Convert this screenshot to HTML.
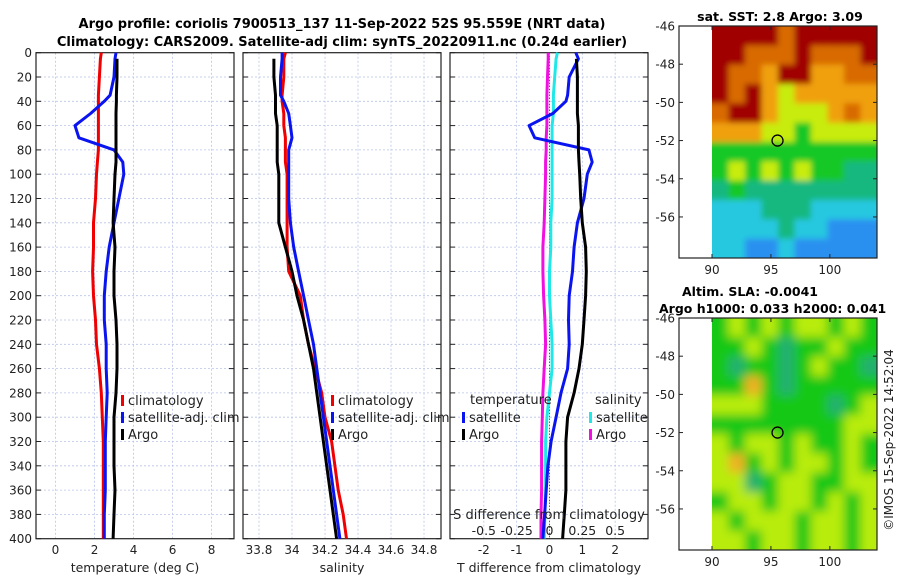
<!DOCTYPE html>
<html><head><meta charset="utf-8"><style>
body{margin:0;background:#fff;width:900px;height:580px;overflow:hidden}
svg text{font-family:"DejaVu Sans","Liberation Sans",sans-serif;fill:#222}
.b{font-weight:bold;fill:#000}
</style></head><body>
<svg id="fig" width="900" height="580" xmlns="http://www.w3.org/2000/svg">
<text class="b" x="342" y="28" font-size="13" text-anchor="middle">Argo profile: coriolis 7900513_137 11-Sep-2022 52S 95.559E (NRT data)</text>
<text class="b" x="342" y="46" font-size="13" text-anchor="middle">Climatology: CARS2009. Satellite-adj clim: synTS_20220911.nc (0.24d earlier)</text>
<text class="b" x="780" y="21" font-size="12.5" text-anchor="middle">sat. SST: 2.8 Argo: 3.09</text>
<text class="b" x="682" y="296" font-size="12.5">Altim. SLA: -0.0041</text>
<text class="b" x="659" y="313" font-size="12.5">Argo h1000: 0.033 h2000: 0.041</text>
<text x="893" y="440" font-size="12" text-anchor="middle" transform="rotate(-90 893 440)">©IMOS 15-Sep-2022 14:52:04</text>
</svg>
<script>
const depth=[0,5,20,35,40,50,60,70,80,90,100,120,140,160,180,200,220,240,260,280,300,320,340,360,380,400];
const tClim=[2.35,2.3,2.25,2.2,2.2,2.2,2.2,2.2,2.2,2.15,2.1,2.05,1.95,1.95,1.9,1.95,2.05,2.1,2.25,2.35,2.4,2.45,2.45,2.45,2.45,2.45];
const tSat=[3.1,3.05,3.0,2.8,2.5,1.8,1.0,1.2,3.0,3.45,3.5,3.25,3.0,2.75,2.6,2.5,2.5,2.6,2.6,2.65,2.6,2.55,2.55,2.55,2.5,2.5];
const tArgo=[null,3.15,3.15,3.12,3.12,3.1,3.1,3.1,3.1,3.1,3.05,3.0,2.95,3.05,3.0,3.0,3.1,3.15,3.15,3.1,3.0,3.0,3.0,3.05,3.0,2.95];
const sClim=[33.96,33.95,33.95,33.94,33.94,33.95,33.95,33.96,33.96,33.96,33.97,33.97,33.97,33.97,33.98,34.05,34.07,34.1,34.14,34.18,34.2,34.24,34.26,34.28,34.31,34.33];
const sSat=[33.94,33.94,33.93,33.93,33.95,33.98,33.99,34.0,33.98,33.98,33.98,33.98,33.99,34.01,34.04,34.07,34.1,34.13,34.15,34.17,34.19,34.21,34.23,34.25,34.27,34.29];
const sArgo=[null,33.89,33.89,33.9,33.9,33.9,33.91,33.91,33.91,33.91,33.92,33.92,33.92,33.96,34.0,34.03,34.07,34.1,34.13,34.15,34.17,34.19,34.21,34.23,34.25,34.27];
const dT_sat=[0.8,0.88,0.6,0.55,0.5,0.1,-0.62,-0.45,1.2,1.3,1.15,1.05,0.85,0.75,0.7,0.6,0.58,0.6,0.55,0.35,0.2,0.05,-0.05,-0.1,-0.15,-0.2];
const dT_argo=[null,0.82,0.85,0.85,0.85,0.85,0.88,0.88,0.88,0.9,0.92,0.95,1.0,1.1,1.12,1.1,1.05,1.0,0.9,0.75,0.55,0.5,0.5,0.5,0.45,0.4];
const dS_sat=[0.06,0.05,0.04,0.03,0.03,0.03,0.02,0.02,0.02,0.02,0.02,0.02,0.01,0.01,0.0,0.0,0.01,0.02,0.02,0.0,-0.02,-0.03,-0.03,-0.03,-0.035,-0.04];
const dS_argo=[-0.01,-0.01,-0.015,-0.02,-0.02,-0.02,-0.02,-0.025,-0.025,-0.03,-0.03,-0.035,-0.04,-0.05,-0.05,-0.045,-0.035,-0.03,-0.04,-0.05,-0.055,-0.06,-0.06,-0.06,-0.065,-0.065];
const depthTicks=[0,20,40,60,80,100,120,140,160,180,200,220,240,260,280,300,320,340,360,380,400];
const tTicks=[0,2,4,6,8];
const sTicks=[33.8,34,34.2,34.4,34.6,34.8];
const dTTicks=[-2,-1,0,1,2];
const dSTicks=[-0.5,-0.25,0,0.25,0.5];
const sstGrid=[
[6,6,6,6,5,6,6,6,6,6],[6,6,5,5,5,6,5,5,5,6],[6,5,5,4,6,6,4,4,5,5],[6,5,6,4,3,4,4,4,4,4],
[5,6,6,4,3,3,3,4,5,4],[4,4,4,3,3,2,3,3,3,3],[2,2,2,2,2,2,2,2,2,2],[2,3,2,3,2,3,2,2,1,1],
[1,2,1,1,1,1,1,1,1,1],[0,0,0,1,1,1,0,0,0,0],[0,0,0,0,1,0,0,-1,-1,-1],[0,0,-1,-1,0,-1,-1,-1,-1,-1]];
const slaGrid=[
[2,3,2,3,2,3,3,2,3,2],[2,2,3,2,1,2,2,3,2,2],[2,1,2,2,1,2,3,2,2,1],[2,2,4,2,1,2,2,2,2,2],
[3,3,3,2,2,2,2,1,2,3],[2,2,2,2,2,2,2,2,3,3],[3,2,3,3,2,3,2,2,3,2],[3,4,2,3,2,3,3,2,3,2],
[3,3,1,2,3,3,2,2,3,3],[2,3,3,2,3,3,2,3,2,3],[3,2,3,3,3,2,3,3,2,3],[3,3,2,3,3,2,3,3,2,3]];
const sstColors={"-1":"#2a90f0","0":"#28c8e0","1":"#18b880","2":"#18c828","3":"#c8ec10","4":"#f0a010","5":"#d86a00","6":"#a00000"};
const slaColors={"1":"#20b070","2":"#14c814","3":"#b8ec10","4":"#f0b020"};

const svg=document.getElementById('fig');const NS="http://www.w3.org/2000/svg";
function el(t,a,p){const e=document.createElementNS(NS,t);for(const k in a)e.setAttribute(k,a[k]);(p||svg).appendChild(e);return e;}
const Y0=52.7,Y1=538.7;
function yD(d){return Y0+(d/400)*(Y1-Y0);}
function panel(name,x0,x1,d0,d1,xt,xtitle,showY){
  const g=el('g',{});
  const xs=v=>x0+(v-d0)/(d1-d0)*(x1-x0);
  for(const t of xt){const x=xs(t);const l=el('line',{x1:x,x2:x,y1:Y0,y2:Y1,stroke:'#b8c4e8','stroke-dasharray':'2,2','stroke-width':0.8},g);
    const tx=el('text',{x:x,y:554,'font-size':12,'text-anchor':'middle'},g);tx.textContent=String(t);}
  for(const d of depthTicks){const y=yD(d);if(d>0&&d<400){const l=el('line',{x1:x0,x2:x1,y1:y,y2:y,stroke:'#b8c4e8','stroke-dasharray':'2,2','stroke-width':0.8},g);}
    el('line',{x1:x0,x2:x0+5,y1:y,y2:y,stroke:'#222'},g);el('line',{x1:x1-5,x2:x1,y1:y,y2:y,stroke:'#222'},g);
    if(showY){const tx=el('text',{x:x0-4,y:y+4.5,'font-size':12,'text-anchor':'end'},g);tx.textContent=String(d);}}
  const r=el('rect',{x:x0,y:Y0,width:x1-x0,height:Y1-Y0,fill:'none',stroke:'#222','stroke-width':1.2},g);
  const tt=el('text',{x:(x0+x1)/2,y:572,'font-size':12.5,'text-anchor':'middle'},g);tt.textContent=xtitle;
  return {g,xs};
}
function line(P,vals,col,name,w){let d='';vals.forEach((v,i)=>{if(v===null)return;d+=(d?'L':'M')+P.xs(v).toFixed(1)+','+yD(depth[i]).toFixed(1);});
  const p=el('path',{d:d,fill:'none',stroke:col,'stroke-width':w||3,'stroke-linejoin':'round'},P.g);}
function leg(g,x,y,col,txt,name){el('rect',{x:x,y:y-9,width:3,height:11,fill:col},g);const t=el('text',{x:x+7,y:y+1,'font-size':13},g);t.textContent=txt;}

const P1=panel('temperature-panel',36,234,-1,9.15,tTicks,'temperature (deg C)',true);
line(P1,tClim,'#f00000','temp-climatology-line');line(P1,tSat,'#0a14f0','temp-satellite-line');line(P1,tArgo,'#000','temp-argo-line');
leg(P1.g,121,404,'#f00000','climatology','legend-climatology');leg(P1.g,121,421,'#0a14f0','satellite-adj. clim','legend-satellite');leg(P1.g,121,438,'#000','Argo','legend-argo');

const P2=panel('salinity-panel',243,441,33.703,34.903,sTicks,'salinity',false);
line(P2,sClim,'#f00000','sal-climatology-line');line(P2,sSat,'#0a14f0','sal-satellite-line');line(P2,sArgo,'#000','sal-argo-line');
leg(P2.g,331,404,'#f00000','climatology','legend-climatology');leg(P2.g,331,421,'#0a14f0','satellite-adj. clim','legend-satellite');leg(P2.g,331,438,'#000','Argo','legend-argo');

const P3=panel('difference-panel',450,648,-3.03,3.0,dTTicks,'T difference from climatology',false);
el('line',{x1:P3.xs(0),x2:P3.xs(0),y1:Y0,y2:Y1,stroke:'#333','stroke-dasharray':'1,2','stroke-width':1},P3.g);
const PS={g:P3.g,xs:v=>P3.xs(v*4)};
line(PS,dS_sat,'#20e8e8','sal-diff-satellite-line');line(PS,dS_argo,'#f010e0','sal-diff-argo-line');
line(P3,dT_sat,'#0a14f0','temp-diff-satellite-line');line(P3,dT_argo,'#000','temp-diff-argo-line');
[['temperature',470,404],['salinity',595,404]].forEach(a=>{const t=el('text',{x:a[1],y:a[2],'font-size':13},P3.g);t.textContent=a[0];});
leg(P3.g,462,421,'#0a14f0','satellite','legend-t-satellite');leg(P3.g,462,438,'#000','Argo','legend-t-argo');
leg(P3.g,589,421,'#20e8e8','satellite','legend-s-satellite');leg(P3.g,589,438,'#f010e0','Argo','legend-s-argo');
{const t=el('text',{x:549,y:519,'font-size':13,'text-anchor':'middle'},P3.g);t.textContent='S difference from climatology';
for(const s of dSTicks){const tx=el('text',{x:PS.xs(s),y:535,'font-size':12.5,'text-anchor':'middle'},P3.g);tx.textContent=String(s);}}

function map(name,top,bot,grid,colors,blur){
  const g=el('g',{});
  const X0=679,X1=877,lon0=87.2,lon1=104,lat0=-46,lat1=-58.15;
  const xs=v=>X0+(v-lon0)/(lon1-lon0)*(X1-X0);const ys=v=>top+(v-lat0)/(lat1-lat0)*(bot-top);
  const L=xs(90);
  const id='clip'+name;const cp=el('clipPath',{id:id},g);el('rect',{x:L,y:top,width:X1-L,height:bot-top},cp);
  const fid='f'+name;const f=el('filter',{id:fid,filterUnits:'userSpaceOnUse',x:L-30,y:top-30,width:X1-L+60,height:bot-top+60},g);el('feGaussianBlur',{stdDeviation:blur},f);
  const cg=el('g',{'clip-path':'url(#'+id+')'},g);const ig=el('g',{filter:'url(#'+fid+')'},cg);
  const nr=grid.length,nc=grid[0].length,cw=(X1-L)/nc,ch=(bot-top)/nr;
  grid.forEach((row,i)=>row.forEach((v,j)=>{
    const x=L+j*cw-(j==0?cw:0),y=top+i*ch-(i==0?ch:0);
    const w=cw+0.6+((j==0||j==nc-1)?cw:0),h=ch+0.6+((i==0||i==nr-1)?ch:0);
    const r=el('rect',{x:x,y:y,width:w,height:h,fill:colors[v]},ig);}));
  const c=el('circle',{cx:xs(95.56),cy:ys(-52),r:5.5,fill:'none',stroke:'#000','stroke-width':1.3},g);
  el('rect',{x:X0,y:top,width:X1-X0,height:bot-top,fill:'none',stroke:'#222','stroke-width':1.2},g);
  for(const lat of [-46,-48,-50,-52,-54,-56]){const y=ys(lat);el('line',{x1:X0,x2:X0+4,y1:y,y2:y,stroke:'#222'},g);el('line',{x1:X1-4,x2:X1,y1:y,y2:y,stroke:'#222'},g);
    const t=el('text',{x:X0-4,y:y+4.5,'font-size':12,'text-anchor':'end'},g);t.textContent=String(lat);}
  for(const lon of [90,95,100]){const x=xs(lon);el('line',{x1:x,x2:x,y1:bot-4,y2:bot,stroke:'#222'},g);el('line',{x1:x,x2:x,y1:top,y2:top+4,stroke:'#222'},g);
    const t=el('text',{x:x,y:bot+16,'font-size':12,'text-anchor':'middle'},g);t.textContent=String(lon);}
}
map('sst-map',26,258,sstGrid,sstColors,3);
map('sla-map',318,550,slaGrid,slaColors,5);
</script>
</body></html>
